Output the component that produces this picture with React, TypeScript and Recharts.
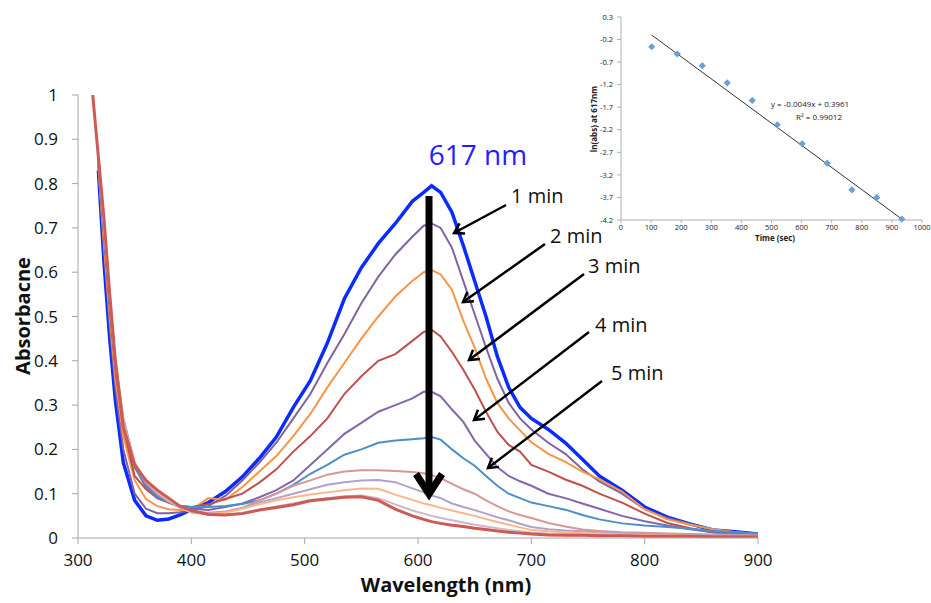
import {
  ComposedChart,
  Line,
  LineChart,
  Scatter,
  XAxis,
  YAxis,
} from "recharts";

// wavelength grid (nm)
const wavelengths = [
  313, 318, 323, 328, 333, 340, 350, 360, 370, 380, 390, 400, 415, 430, 445,
  460, 475, 490, 505, 520, 535, 550, 565, 580, 595, 605, 612, 620, 630, 640,
  650, 660, 670, 680, 690, 700, 715, 730, 745, 760, 780, 800, 820, 840, 860,
  880, 900,
];

// absorbance traces
const start = [
  null, 0.83, 0.62, 0.45, 0.31, 0.17, 0.085, 0.05, 0.04, 0.043, 0.052, 0.064,
  0.08, 0.105, 0.138, 0.18, 0.228, 0.295, 0.355, 0.44, 0.54, 0.61, 0.665, 0.71,
  0.76, 0.78, 0.795, 0.78, 0.735, 0.66, 0.58, 0.5, 0.41, 0.34, 0.295, 0.27,
  0.245, 0.215, 0.178, 0.14, 0.108, 0.07, 0.047, 0.032, 0.018, 0.014, 0.009,
];
const min1 = [
  null, 0.84, 0.65, 0.48, 0.34, 0.2, 0.1, 0.066, 0.056, 0.056, 0.058, 0.062,
  0.072, 0.095, 0.13, 0.17, 0.215, 0.27, 0.325, 0.395, 0.46, 0.53, 0.59, 0.64,
  0.68, 0.705, 0.71, 0.7, 0.655, 0.58, 0.505, 0.43, 0.36, 0.305, 0.27, 0.245,
  0.215, 0.19, 0.155, 0.128, 0.1, 0.065, 0.045, 0.032, 0.02, 0.013, 0.009,
];
const min2 = [
  null, 0.84, 0.66, 0.5, 0.36, 0.23, 0.13, 0.088, 0.072, 0.065, 0.063, 0.063,
  0.09, 0.086, 0.115, 0.15, 0.185, 0.23, 0.28, 0.34, 0.395, 0.45, 0.5, 0.545,
  0.58, 0.6, 0.605, 0.595, 0.56, 0.49, 0.43, 0.36, 0.305, 0.27, 0.243, 0.216,
  0.19, 0.172, 0.15, 0.133, 0.105, 0.065, 0.042, 0.03, 0.02, 0.013, 0.009,
];
const min3 = [
  null, 0.85, 0.68, 0.52, 0.38, 0.25, 0.14, 0.11, 0.09, 0.08, 0.072, 0.07,
  0.076, 0.088, 0.1, 0.125, 0.155, 0.195, 0.23, 0.27, 0.325, 0.365, 0.4, 0.415,
  0.445, 0.465, 0.47, 0.455, 0.42, 0.38, 0.335, 0.285, 0.24, 0.21, 0.195, 0.165,
  0.15, 0.132, 0.118, 0.1, 0.08, 0.055, 0.034, 0.022, 0.013, 0.01, 0.007,
];
const min4 = [
  null, 0.85, 0.69, 0.53, 0.39, 0.26, 0.16, 0.115, 0.09, 0.08, 0.07, 0.066,
  0.063, 0.07, 0.078, 0.092, 0.108, 0.13, 0.165, 0.2, 0.235, 0.26, 0.285, 0.3,
  0.315, 0.33, 0.33, 0.32, 0.29, 0.262, 0.22, 0.19, 0.16, 0.14, 0.128, 0.118,
  0.1, 0.09, 0.078, 0.066, 0.05, 0.038, 0.028, 0.02, 0.013, 0.009, 0.007,
];
const min5 = [
  null, 0.85, 0.69, 0.53, 0.39, 0.26, 0.16, 0.12, 0.095, 0.08, 0.073, 0.07,
  0.07, 0.072, 0.077, 0.085, 0.1, 0.12, 0.145, 0.165, 0.188, 0.2, 0.215, 0.22,
  0.223, 0.225, 0.228, 0.222, 0.2, 0.18, 0.163, 0.14, 0.118, 0.1, 0.09, 0.08,
  0.072, 0.064, 0.052, 0.042, 0.033, 0.028, 0.025, 0.021, 0.016, 0.013, 0.01,
];
const min6 = [
  null, 0.86, 0.7, 0.54, 0.4, 0.27, 0.17, 0.125, 0.1, 0.083, 0.07, 0.06, 0.057,
  0.06, 0.068, 0.085, 0.1, 0.118, 0.13, 0.143, 0.15, 0.153, 0.153, 0.151,
  0.149, 0.146, 0.142, 0.135, 0.122, 0.11, 0.1, 0.085, 0.072, 0.06, 0.052,
  0.045, 0.034, 0.026, 0.019, 0.016, 0.013, 0.012, 0.01, 0.009, 0.008, 0.007,
  0.006,
];
const min7 = [
  null, 0.86, 0.7, 0.54, 0.4, 0.27, 0.17, 0.125, 0.1, 0.082, 0.068, 0.058,
  0.055, 0.058, 0.068, 0.08, 0.09, 0.1, 0.11, 0.12, 0.126, 0.13, 0.131, 0.126,
  0.112, 0.103, 0.096, 0.09, 0.078, 0.07, 0.063, 0.055, 0.047, 0.04, 0.032,
  0.025, 0.02, 0.017, 0.015, 0.013, 0.011, 0.01, 0.009, 0.008, 0.007, 0.006,
  0.005,
];
const min8 = [
  null, 0.86, 0.71, 0.55, 0.4, 0.26, 0.168, 0.128, 0.104, 0.085, 0.07, 0.057,
  0.054, 0.057, 0.066, 0.076, 0.085, 0.092, 0.098, 0.103, 0.108, 0.112, 0.111,
  0.098, 0.086, 0.078, 0.074, 0.068, 0.062, 0.056, 0.05, 0.043, 0.036, 0.03,
  0.024, 0.018, 0.015, 0.013, 0.011, 0.01, 0.008, 0.007, 0.006, 0.005, 0.005,
  0.004, 0.004,
];
const min9 = [
  null, 0.86, 0.71, 0.55, 0.4, 0.255, 0.166, 0.13, 0.106, 0.088, 0.071, 0.06,
  0.053, 0.053, 0.057, 0.064, 0.071, 0.078, 0.086, 0.09, 0.094, 0.096, 0.09,
  0.076, 0.062, 0.055, 0.05, 0.045, 0.04, 0.035, 0.03, 0.026, 0.022, 0.018,
  0.015, 0.012, 0.01, 0.009, 0.008, 0.007, 0.006, 0.005, 0.005, 0.004, 0.004,
  0.003, 0.003,
];
const min10 = [
  1.0, 0.86, 0.72, 0.55, 0.4, 0.25, 0.165, 0.13, 0.108, 0.09, 0.072, 0.062,
  0.053, 0.052, 0.055, 0.063, 0.069, 0.075, 0.084, 0.088, 0.092, 0.093, 0.085,
  0.065, 0.05, 0.042, 0.037, 0.033, 0.029, 0.026, 0.022, 0.019, 0.016, 0.013,
  0.011, 0.009, 0.007, 0.006, 0.006, 0.005, 0.005, 0.004, 0.004, 0.004, 0.003,
  0.003, 0.003,
];

const series = [
  { key: "t0", values: start, color: "#0a2cff", width: 3.5 },
  { key: "t1", values: min1, color: "#8064a2", width: 2 },
  { key: "t2", values: min2, color: "#f79646", width: 2 },
  { key: "t3", values: min3, color: "#c0504d", width: 2 },
  { key: "t4", values: min4, color: "#8566ab", width: 2 },
  { key: "t5", values: min5, color: "#4b8fc8", width: 2 },
  { key: "t6", values: min6, color: "#d99694", width: 2 },
  { key: "t7", values: min7, color: "#b3a2c7", width: 2 },
  { key: "t8", values: min8, color: "#fab88a", width: 2 },
  { key: "t9", values: min9, color: "#d3b6c6", width: 2 },
  { key: "t10", values: min10, color: "#cd5a53", width: 3 },
];

const xTicks = [300, 400, 500, 600, 700, 800, 900];
const yTicks = [0, 0.1, 0.2, 0.3, 0.4, 0.5, 0.6, 0.7, 0.8, 0.9, 1];

// inset: ln(abs) at 617 nm vs time
const times = [102, 187, 270, 353, 436, 519, 602, 685, 767, 850, 933];
const lnAbs = [
  -0.36, -0.52, -0.78, -1.16, -1.55, -2.09, -2.51, -2.94, -3.53, -3.7, -4.18,
];
const fitTimes = [102, 933];
const fitValues = [-0.1, -4.18];
const insetXTicks = [0, 100, 200, 300, 400, 500, 600, 700, 800, 900, 1000];
const insetYTicks = [0.3, -0.2, -0.7, -1.2, -1.7, -2.2, -2.7, -3.2, -3.7, -4.2];

const spectra = wavelengths.map((wl, i) => {
  const row: Record<string, number | null> = { wl };
  series.forEach((s) => (row[s.key] = s.values[i]));
  return row;
});
const points = times.map((t, i) => ({ t, y: lnAbs[i] }));
const fitLine = fitTimes.map((t, i) => ({ t, fit: fitValues[i] }));

const font = "'Open Sans', 'Liberation Sans', sans-serif";

const Arrow = ({ x1, y1, x2, y2, w = 2.5, head = 11 }: any) => {
  const a = Math.atan2(y2 - y1, x2 - x1);
  const h1x = x2 - head * Math.cos(a - 0.55);
  const h1y = y2 - head * Math.sin(a - 0.55);
  const h2x = x2 - head * Math.cos(a + 0.55);
  const h2y = y2 - head * Math.sin(a + 0.55);
  return (
    <g stroke="#000" strokeWidth={w} fill="none">
      <line x1={x1} y1={y1} x2={x2} y2={y2} />
      <polyline points={`${h1x},${h1y} ${x2},${y2} ${h2x},${h2y}`} />
    </g>
  );
};

const Diamond = (props: any) => {
  const { cx, cy } = props;
  const r = 3.6;
  return (
    <polygon
      points={`${cx},${cy - r} ${cx + r},${cy} ${cx},${cy + r} ${cx - r},${cy}`}
      fill="#6a9fd8"
    />
  );
};

const labels = [
  { text: "1 min", x: 511, y: 203, from: [506, 205], to: [454, 233] },
  { text: "2 min", x: 550, y: 243, from: [545, 244], to: [463, 302] },
  { text: "3 min", x: 588, y: 273, from: [584, 274], to: [469, 360] },
  { text: "4 min", x: 595, y: 332, from: [589, 332], to: [474, 420] },
  { text: "5 min", x: 611, y: 380, from: [602, 381], to: [488, 468] },
];

export default function App() {
  return (
    <div
      style={{
        position: "absolute",
        left: 0,
        top: 0,
        width: 931,
        height: 603,
        background: "#fff",
        fontFamily: font,
      }}
    >
      <LineChart
        width={931}
        height={603}
        data={spectra}
        margin={{ top: 95, right: 173, left: 18, bottom: 35 }}
      >
        <XAxis
          dataKey="wl"
          type="number"
          domain={[300, 900]}
          ticks={xTicks}
          height={30}
          stroke="#a6a6a6"
          tickSize={6}
          tickMargin={10}
          tick={{ fill: "#111", fontSize: 17, fontFamily: font }}
          allowDataOverflow
        />
        <YAxis
          type="number"
          domain={[0, 1]}
          ticks={yTicks}
          width={60}
          stroke="#a6a6a6"
          tickSize={6}
          tickMargin={14}
          tick={{ fill: "#111", fontSize: 17, fontFamily: font }}
          allowDataOverflow
        />
        {series.map((s) => (
          <Line
            key={s.key}
            dataKey={s.key}
            type="linear"
            stroke={s.color}
            strokeWidth={s.width}
            dot={false}
            activeDot={false}
            isAnimationActive={false}
          />
        ))}
      </LineChart>

      <svg
        width={931}
        height={603}
        style={{ position: "absolute", left: 0, top: 0, pointerEvents: "none" }}
      >
        <text
          x={22}
          y={316}
          transform="rotate(-90 22 316)"
          textAnchor="middle"
          dominantBaseline="central"
          fontSize={20}
          fontWeight="bold"
          fill="#111"
          fontFamily={font}
        >
          Absorbacne
        </text>
        <text
          x={446}
          y={592}
          textAnchor="middle"
          fontSize={20}
          fontWeight="bold"
          fill="#111"
          fontFamily={font}
        >
          Wavelength (nm)
        </text>
        <text
          x={478}
          y={165}
          textAnchor="middle"
          fontSize={28}
          fill="#1f1fff"
          fontFamily={font}
        >
          617 nm
        </text>
        <line x1={429} y1={196} x2={429} y2={492} stroke="#000" strokeWidth={7} />
        <polyline
          points="416,474 429,494 442,474"
          stroke="#000"
          strokeWidth={7}
          fill="none"
        />
        {labels.map((l) => (
          <g key={l.text}>
            <text x={l.x} y={l.y} fontSize={20} fill="#111" fontFamily={font}>
              {l.text}
            </text>
            <Arrow x1={l.from[0]} y1={l.from[1]} x2={l.to[0]} y2={l.to[1]} />
          </g>
        ))}
      </svg>

      <div style={{ position: "absolute", left: 560, top: 0 }}>
        <ComposedChart
          width={371}
          height={245}
          margin={{ top: 17, right: 9, left: 31, bottom: 10 }}
        >
          <XAxis
            dataKey="t"
            type="number"
            domain={[0, 1000]}
            ticks={insetXTicks}
            height={15}
            stroke="#b0b0b0"
            tickSize={3}
            tickMargin={2}
            tick={{ fill: "#222", fontSize: 7.5, fontFamily: font }}
          />
          <YAxis
            type="number"
            domain={[-4.2, 0.3]}
            ticks={insetYTicks}
            width={30}
            stroke="#b0b0b0"
            tickSize={4}
            tickMargin={4}
            tick={{ fill: "#222", fontSize: 7.5, fontFamily: font }}
          />
          <Line
            data={fitLine}
            dataKey="fit"
            type="linear"
            stroke="#333"
            strokeWidth={1}
            dot={false}
            activeDot={false}
            isAnimationActive={false}
          />
          <Scatter
            data={points}
            dataKey="y"
            shape={<Diamond />}
            isAnimationActive={false}
          />
        </ComposedChart>
        <svg
          width={371}
          height={245}
          style={{ position: "absolute", left: 0, top: 0, pointerEvents: "none" }}
        >
          <text
            x={33}
            y={119}
            transform="rotate(-90 33 119)"
            textAnchor="middle"
            dominantBaseline="central"
            fontSize={8}
            fontWeight="bold"
            fill="#222"
            fontFamily={font}
          >
            ln(abs) at 617nm
          </text>
          <text
            x={215}
            y={241}
            textAnchor="middle"
            fontSize={8}
            fontWeight="bold"
            fill="#222"
            fontFamily={font}
          >
            Time (sec)
          </text>
          <text x={211} y={107} fontSize={8} fill="#222" fontFamily={font}>
            y = -0.0049x + 0.3961
          </text>
          <text x={236} y={120} fontSize={8} fill="#222" fontFamily={font}>
            R² = 0.99012
          </text>
        </svg>
      </div>
    </div>
  );
}
